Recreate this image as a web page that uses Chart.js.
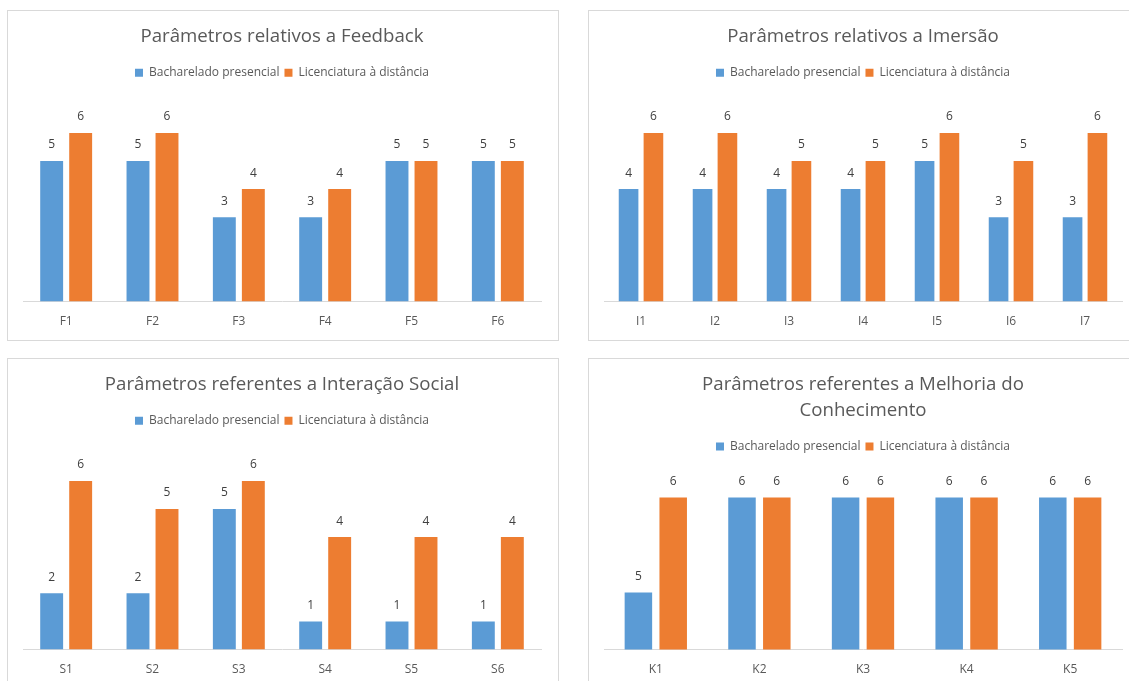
<!DOCTYPE html>
<html>
<head>
<meta charset="utf-8">
<script src="https://cdn.jsdelivr.net/npm/chart.js@4.4.0/dist/chart.umd.min.js"></script>
<style>
  html, body { margin: 0; padding: 0; background: #fff; overflow: hidden; width: 1129px; height: 681px; }
  .box { position: absolute; width: 552px; height: 331px; border: 1px solid #d9d9d9; box-sizing: border-box; background: #fff; }
  .box canvas { display: block; }
</style>
</head>
<body>
<div class="box" style="left:7px;top:10px"><canvas id="feedback" width="550" height="329"></canvas></div>
<div class="box" style="left:588px;top:10px"><canvas id="imersao" width="550" height="329"></canvas></div>
<div class="box" style="left:7px;top:358px"><canvas id="social" width="550" height="329"></canvas></div>
<div class="box" style="left:588px;top:358px"><canvas id="conhecimento" width="550" height="329"></canvas></div>
<script>
const seriesNames = ['Bacharelado presencial', 'Licenciatura à distância'];

const feedbackLabels = ['F1', 'F2', 'F3', 'F4', 'F5', 'F6'];
const feedbackBacharelado = [5, 5, 3, 3, 5, 5];
const feedbackLicenciatura = [6, 6, 4, 4, 5, 5];

const imersaoLabels = ['I1', 'I2', 'I3', 'I4', 'I5', 'I6', 'I7'];
const imersaoBacharelado = [4, 4, 4, 4, 5, 3, 3];
const imersaoLicenciatura = [6, 6, 5, 5, 6, 5, 6];

const socialLabels = ['S1', 'S2', 'S3', 'S4', 'S5', 'S6'];
const socialBacharelado = [2, 2, 5, 1, 1, 1];
const socialLicenciatura = [6, 5, 6, 4, 4, 4];

const conhecimentoLabels = ['K1', 'K2', 'K3', 'K4', 'K5'];
const conhecimentoBacharelado = [5, 6, 6, 6, 6];
const conhecimentoLicenciatura = [6, 6, 6, 6, 6];

const blue = '#5B9BD5';
const orange = '#ED7D31';

Chart.defaults.font.family = '"Open Sans", "Noto Sans", sans-serif';

// value above every bar
const valueLabels = {
  id: 'valueLabels',
  afterDatasetsDraw(chart) {
    const ctx = chart.ctx;
    ctx.save();
    ctx.font = '12px "Open Sans", "Noto Sans", sans-serif';
    ctx.fillStyle = '#404040';
    ctx.textAlign = 'center';
    ctx.textBaseline = 'middle';
    chart.data.datasets.forEach((ds, i) => {
      chart.getDatasetMeta(i).data.forEach((bar, j) => {
        ctx.fillText(ds.data[j], bar.x, bar.y - 16);
      });
    });
    ctx.restore();
  }
};

// extra room between legend and plot
const legendGap = {
  id: 'legendGap',
  beforeInit(chart) {
    const fit = chart.legend.fit;
    chart.legend.fit = function () {
      fit.call(this);
      this.height += 16;
    };
  }
};

function drawChart(id, title, labels, bach, lic, yMin, yMax) {
  new Chart(document.getElementById(id), {
    type: 'bar',
    data: {
      labels: labels,
      datasets: [
        { label: seriesNames[0], data: bach, backgroundColor: blue, categoryPercentage: 0.672, barPercentage: 0.79 },
        { label: seriesNames[1], data: lic, backgroundColor: orange, categoryPercentage: 0.672, barPercentage: 0.79 }
      ]
    },
    options: {
      responsive: false,
      animation: false,
      layout: { padding: { top: 0, left: 15, right: 17, bottom: -2 } },
      plugins: {
        title: {
          display: true,
          text: title,
          color: '#595959',
          font: { size: 18.67, weight: 'normal', lineHeight: 1.38 },
          padding: { top: 13, bottom: 12 }
        },
        legend: {
          labels: { boxWidth: 8, boxHeight: 8, padding: 5, color: '#595959', font: { size: 12 } }
        },
        tooltip: { enabled: false }
      },
      scales: {
        x: {
          grid: { display: false, drawTicks: false },
          border: { display: true, color: '#d9d9d9' },
          ticks: { color: '#595959', font: { size: 12 }, padding: 13 }
        },
        y: { display: false, min: yMin, max: yMax }
      }
    },
    plugins: [valueLabels, legendGap]
  });
}

drawChart('feedback', 'Parâmetros relativos a Feedback', feedbackLabels, feedbackBacharelado, feedbackLicenciatura, 0, 7);
drawChart('imersao', 'Parâmetros relativos a Imersão', imersaoLabels, imersaoBacharelado, imersaoLicenciatura, 0, 7);
drawChart('social', 'Parâmetros referentes a Interação Social', socialLabels, socialBacharelado, socialLicenciatura, 0, 7);
drawChart('conhecimento', ['Parâmetros referentes a Melhoria do', 'Conhecimento'], conhecimentoLabels, conhecimentoBacharelado, conhecimentoLicenciatura, 4.4, 6.2);
</script>
</body>
</html>
